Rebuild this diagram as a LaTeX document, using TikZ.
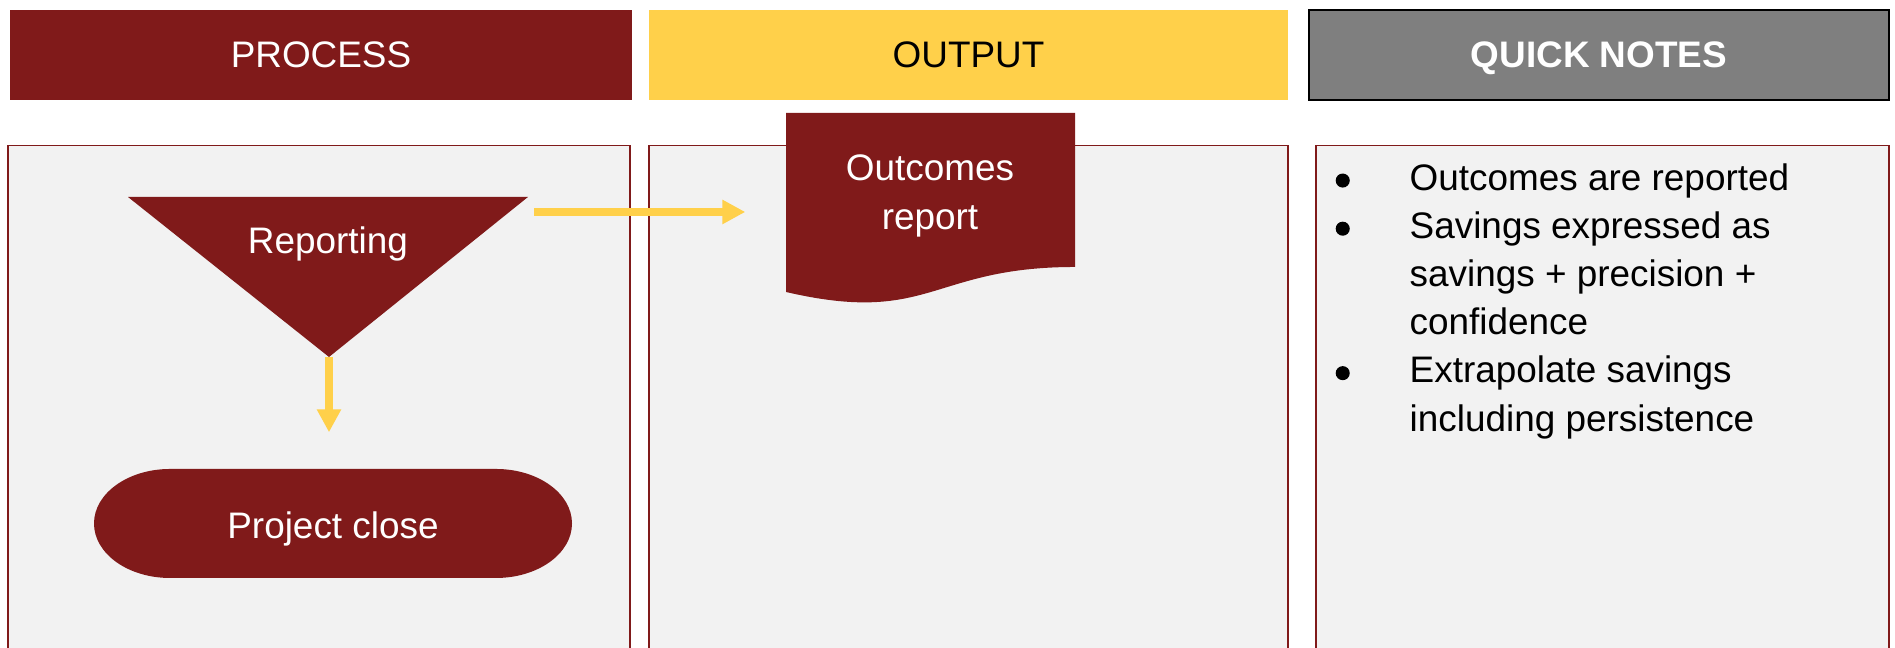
\documentclass[tikz,border=0pt]{standalone}
\usepackage{fontspec}
\setmainfont{Liberation Sans}
\usepackage{xcolor}
\usepackage{tikz}
\usetikzlibrary{arrows.meta,positioning,calc}
\definecolor{maroon}{RGB}{128,26,26}
\definecolor{gold}{RGB}{255,208,74}
\definecolor{slate}{RGB}{127,127,127}
\definecolor{pane}{RGB}{242,242,242}
\newcommand{\dotmark}{\tikz[baseline=-2.8pt]\fill (0,0) circle (2pt);}
\tikzset{
  hdr/.style={minimum height=9mm, inner sep=0pt, text depth=0pt, font=\fontsize{10.5}{12.6}\selectfont},
  panel/.style={draw=maroon, line width=0.4pt, fill=pane, anchor=north, minimum height=5.13cm, inner sep=0pt},
  shp/.style={fill=maroon},
  wtxt/.style={text=white, align=center, font=\fontsize{10.5}{14.1}\selectfont, inner sep=0pt},
  flow/.style={-{Triangle[length=2.3mm,width=2.3mm]}, line width=2.1pt, draw=gold},
}
\begin{document}
\begin{tikzpicture}
    \useasboundingbox (0,0) rectangle (18.95,6.48);
    % column headers
    \node[hdr, fill=maroon, text=white, minimum width=6.22cm] (hproc) at (3.21,5.93) {PROCESS};
    \node[hdr, fill=gold, minimum width=6.39cm] (hout) at (9.685,5.93) {OUTPUT};
    \node[hdr, fill=slate, draw=black, text=white, minimum width=5.80cm, font=\fontsize{10.5}{12.6}\selectfont\bfseries] (hnotes) at (15.99,5.93) {QUICK NOTES};
    % panels
    \node[panel, minimum width=6.22cm] (pproc) at (3.19,5.03) {};
    \node[panel, minimum width=6.39cm] (pout) at (9.685,5.03) {};
    \node[panel, minimum width=5.73cm] (pnotes) at (16.025,5.03) {};
    % reporting (merge triangle)
    \fill[shp] (1.28,4.51) coordinate (trl) -- (5.28,4.51) coordinate (trr) -- (3.29,2.91) coordinate (apex) -- cycle;
    \node[wtxt] (rep) at (3.28,4.04) {Reporting};
    % project close (terminator)
    \fill[shp] (1.70,1.79) -- (4.96,1.79) arc[start angle=90, end angle=-90, x radius=0.76, y radius=0.545]
      -- (1.70,0.70) arc[start angle=270, end angle=90, x radius=0.76, y radius=0.545] -- cycle;
    \node[wtxt, minimum width=4.78cm, minimum height=1.09cm] (close) at (3.33,1.195) {Project close};
    % outcomes report (document)
    \fill[shp] (7.86,5.35) -- (10.75,5.35) -- (10.75,3.81) .. controls (9.305,3.81) and (9.305,3.224) .. (7.86,3.56) -- cycle;
    \node[wtxt, minimum width=2.89cm, minimum height=1.89cm] (doc) at (9.305,4.405) {};
    \node[wtxt] (outc) at (9.30,4.52) {Outcomes\\report};
    % notes
    \node[anchor=north west, inner sep=0pt, font=\fontsize{10.5}{13.7}\selectfont] (notes) at (13.35,4.92) {%
      \begin{tabular}{@{}p{0.74cm}@{}l@{}}
        \dotmark & Outcomes are reported\\
        \dotmark & Savings expressed as\\
                 & savings + precision +\\
                 & confidence\\
        \dotmark & Extrapolate savings\\
                 & including persistence
      \end{tabular}};
    % arrows
    \draw[flow, shorten >=4.1mm] (apex) -- (apex |- close.north);
    \coordinate (tail) at ([shift={(0.06,-0.15)}]trr);
    \draw[flow, shorten >=4mm] (tail) -- (tail -| doc.west);
\end{tikzpicture}
\end{document}
